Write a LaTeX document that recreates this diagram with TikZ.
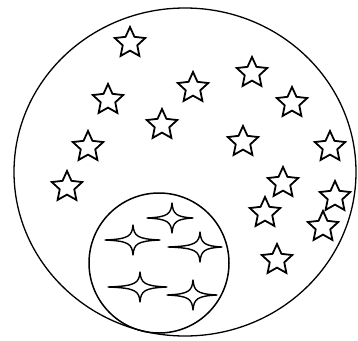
\documentclass[tikz,border=0pt]{standalone}
\usepackage{tikz}
\usetikzlibrary{shapes.geometric}

\tikzset{
  starmark/.style={star, star points=5, star point ratio=2.1, draw=black, fill=white,
    line width=1.8pt, minimum size=32pt, inner sep=0pt},
  sparkline/.style={draw=black, fill=white, line width=1.4pt, line join=round}
}

\begin{document}
\begin{tikzpicture}[x=1pt, y=-1pt]
  \useasboundingbox (0,0) rectangle (358,340);
  % outer field
  \draw[line width=1.3pt] (185,172) ellipse [x radius=171, y radius=164];
  % the five-pointed stars
  \foreach \x/\y [count=\i] in {130/43, 252/73, 193/88, 108/100, 292/103, 162/125,
      243/142, 330/147, 88/147, 67/187, 283/183, 335/197, 265/213, 323/227, 277/260}
    \node[starmark] (star\i) at (\x,\y) {};
  % inner field
  \draw[line width=1.5pt] (159,263) circle [radius=70];
  % the four-pointed sparkles
  \foreach \x/\y/\l/\r in {172/218/25/21, 133/240/28/27, 200/247/32/22, 140/287/32/27, 193/295/26/24}
    \path[sparkline] (\x-\l,\y) .. controls (\x-4,\y-1) and (\x-1,\y-4) .. (\x,\y-15)
      .. controls (\x+1,\y-4) and (\x+4,\y-1) .. (\x+\r,\y)
      .. controls (\x+4,\y+1) and (\x+1,\y+4) .. (\x,\y+15)
      .. controls (\x-1,\y+4) and (\x-4,\y+1) .. cycle;
\end{tikzpicture}
\end{document}
